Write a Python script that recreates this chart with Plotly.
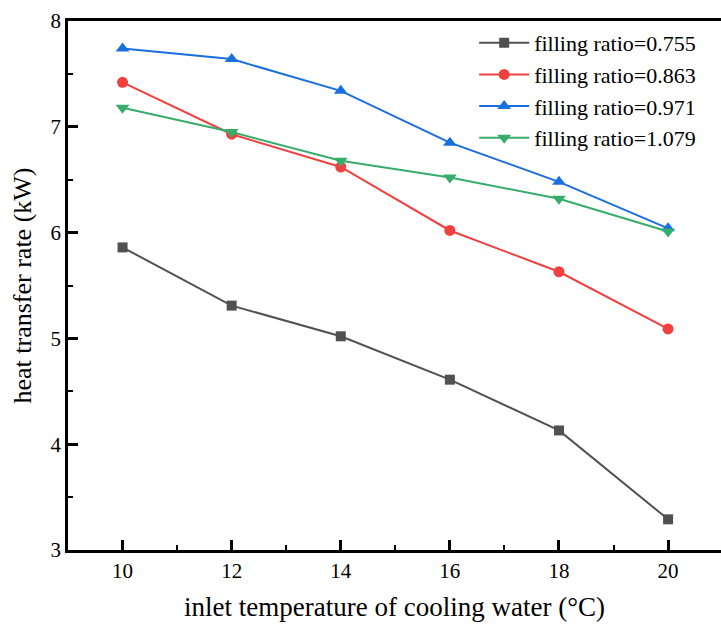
import plotly.graph_objects as go

temps = [10, 12, 14, 16, 18, 20]
fr_0755 = [5.86, 5.31, 5.02, 4.61, 4.13, 3.29]
fr_0863 = [7.42, 6.93, 6.62, 6.02, 5.63, 5.09]
fr_0971 = [7.74, 7.64, 7.34, 6.85, 6.48, 6.04]
fr_1079 = [7.18, 6.95, 6.68, 6.52, 6.32, 6.01]
names = ["filling ratio=0.755", "filling ratio=0.863", "filling ratio=0.971", "filling ratio=1.079"]
colors = ["#515151", "#F14040", "#1A6FDF", "#37AD6B"]
symbols = ["square", "circle", "triangle-up", "triangle-down"]
sizes = [10, 11, 12, 12]

fig = go.Figure()
for ys, n, c, s, sz in zip([fr_0755, fr_0863, fr_0971, fr_1079], names, colors, symbols, sizes):
    fig.add_trace(go.Scatter(x=temps, y=ys, name=n, mode="lines+markers",
                             line=dict(color=c, width=2),
                             marker=dict(symbol=s, size=sz, color=c)))

font = "Liberation Serif, Times New Roman, serif"

def axis_common(minor_dtick, mirror):
    return dict(showline=True, linecolor="black", linewidth=2.5, mirror=mirror,
                ticks="inside", ticklen=10, tickwidth=2.5, tickcolor="black",
                showgrid=False, zeroline=False,
                tickfont=dict(family=font, size=21, color="black"),
                minor=dict(ticks="inside", ticklen=5, tickwidth=2, tickcolor="black", dtick=minor_dtick))

fig.update_xaxes(range=[9, 20.97], dtick=2, tick0=10,
                 title=dict(text="inlet temperature of cooling water (°C)",
                            font=dict(family=font, size=27, color="black"), standoff=16),
                 **axis_common(1, True))
fig.update_yaxes(range=[3, 8], dtick=1,
                 title=dict(text="heat transfer rate (kW)",
                            font=dict(family=font, size=26, color="black"), standoff=12),
                 **axis_common(0.5, False))

fig.update_layout(width=721, height=627, margin=dict(l=68, r=0, t=21, b=77),
                  plot_bgcolor="white", paper_bgcolor="white",
                  legend=dict(x=0.622, y=0.998, xanchor="left", yanchor="top",
                              font=dict(family=font, size=22, color="black"),
                              bgcolor="rgba(0,0,0,0)", itemwidth=50),
                  showlegend=True)

fig.write_html("out.html")
